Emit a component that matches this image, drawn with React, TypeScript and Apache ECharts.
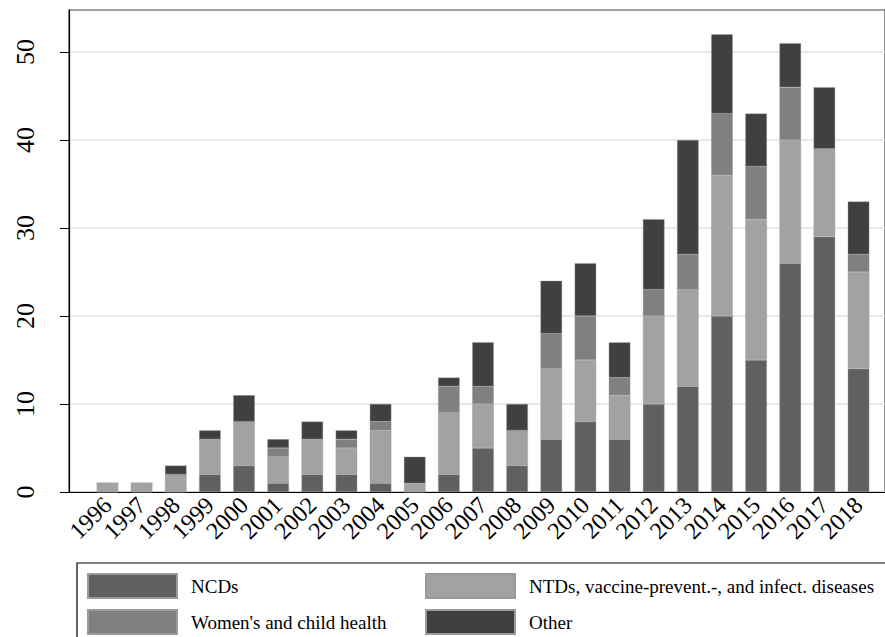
import React, { useEffect, useRef } from "react";
import * as echarts from "echarts";

const years = ["1996","1997","1998","1999","2000","2001","2002","2003","2004","2005","2006","2007","2008","2009","2010","2011","2012","2013","2014","2015","2016","2017","2018"];
const ncds =    [0,0,0,2,3,1,2,2,1,0,2,5,3,6,8,6,10,12,20,15,26,29,14];
const ntds =    [1,1,2,4,5,3,4,3,6,1,7,5,4,8,7,5,10,11,16,16,14,10,11];
const women =   [0,0,0,0,0,1,0,1,1,0,3,2,0,4,5,2,3,4,7,6,6,0,2];
const other =   [0,0,1,1,3,1,2,1,2,3,1,5,3,6,6,4,8,13,9,6,5,7,6];
const seriesNames = ["NCDs", "NTDs, vaccine-prevent.-, and infect. diseases", "Women's and child health", "Other"];
const seriesColors = ["#606060", "#a2a2a2", "#808080", "#404040"];
const yTicks = [0, 10, 20, 30, 40, 50];

const FONT = "'Liberation Serif', 'Times New Roman', serif";

export default function App() {
  const ref = useRef<HTMLDivElement>(null);
  useEffect(() => {
    if (!ref.current) return;
    const chart = echarts.init(ref.current, null, { renderer: "svg" });
    const yMax = 54.77;
    const data = [ncds, ntds, women, other];
    const legendCommon = {
      orient: "vertical", top: 573, padding: 0, height: 80,
      itemWidth: 89, itemHeight: 24, itemGap: 10, icon: "rect",
      textStyle: { fontSize: 19, fontFamily: FONT, color: "#000", padding: [0, 0, 0, 9] },
    };
    chart.setOption({
      animation: false,
      backgroundColor: "#ffffff",
      grid: [
        { left: 69, right: -10, top: 10, bottom: 145, show: true, borderColor: "#444", borderWidth: 1.2, backgroundColor: "transparent" },
        { left: 90.4, right: 9.4, top: 10, bottom: 145 },
      ],
      xAxis: [
        { type: "value", gridIndex: 0, min: 0, max: 1, axisLabel: { show: false }, axisTick: { show: false }, splitLine: { show: false }, axisLine: { show: true, lineStyle: { color: "#000", width: 1.2 } } },
        {
          type: "category", gridIndex: 1, data: years,
          axisLine: { show: false }, axisTick: { show: false },
          axisLabel: { rotate: 45, fontSize: 24, fontFamily: FONT, color: "#000", margin: 9, interval: 0 },
        },
      ],
      yAxis: [
        {
          type: "value", gridIndex: 0, min: 0, max: yMax, interval: 10,
          axisLine: { show: true, lineStyle: { color: "#000", width: 1.2 } },
          axisTick: { show: true, length: 9, lineStyle: { color: "#000" }, customValues: yTicks },
          axisLabel: { rotate: 90, fontSize: 26, fontFamily: FONT, color: "#000", margin: 31, customValues: yTicks },
          splitLine: { show: true, lineStyle: { color: "#e0e0e0", width: 1.5 } },
        },
        { type: "value", gridIndex: 1, min: 0, max: yMax, show: false, splitLine: { show: false } },
      ],
      legend: [
        { ...legendCommon, data: [seriesNames[0], seriesNames[2]], left: 87 },
        { ...legendCommon, data: [seriesNames[1], seriesNames[3]], left: 425 },
      ],
      graphic: [
        { type: "rect", shape: { x: 77, y: 563, width: 900, height: 120 }, style: { fill: "none", stroke: "#000", lineWidth: 1.2 }, silent: true },
      ],
      series: seriesNames.map((name, i) => ({
        name, type: "bar", stack: "total", xAxisIndex: 1, yAxisIndex: 1,
        data: data[i], barWidth: 21.5,
        itemStyle: { color: seriesColors[i], borderColor: "#9a9a9a", borderWidth: 0.4 },
      })),
    });
    return () => chart.dispose();
  }, []);
  return <div ref={ref} style={{ width: 885, height: 637, position: "absolute", left: 0, top: 0 }} />;
}
